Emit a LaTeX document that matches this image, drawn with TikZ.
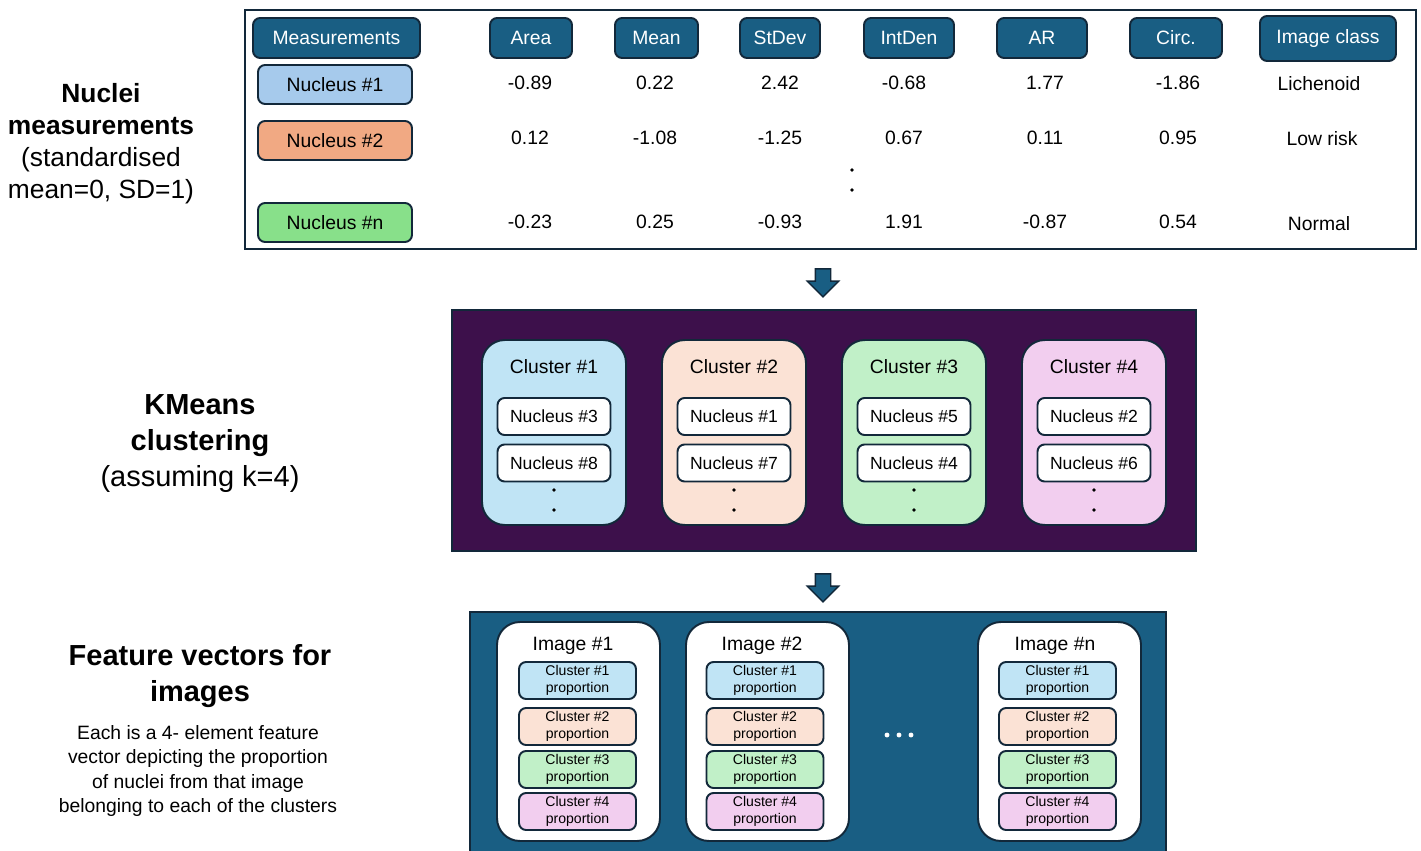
\documentclass[tikz,border=0pt]{standalone}
\usepackage{fontspec}
\setmainfont{Liberation Sans}
\usepackage{tikz}
\usetikzlibrary{shapes.arrows}
\definecolor{PanelEdge}{HTML}{12283A}
\definecolor{HeadTeal}{HTML}{195E83}
\definecolor{NucBlue}{HTML}{A6CAEC}
\definecolor{NucOrange}{HTML}{F1A983}
\definecolor{NucGreen}{HTML}{88E08A}
\definecolor{KmPurple}{HTML}{3D104B}
\definecolor{ClBlue}{HTML}{C0E4F5}
\definecolor{ClPeach}{HTML}{FBE2D5}
\definecolor{ClGreen}{HTML}{C1F0C8}
\definecolor{ClPink}{HTML}{F2CEEF}

\begin{document}
\begin{tikzpicture}[x=0.02cm,y=-0.02cm,
  hdr/.style={draw=PanelEdge,line width=1.1pt,fill=HeadTeal,text=white,rounded corners=4pt,minimum height=0.8cm,inner sep=0pt,font=\fontsize{11}{13}\selectfont},
  nucbox/.style={draw=PanelEdge,line width=1.1pt,rounded corners=4pt,minimum width=3.08cm,minimum height=0.78cm,inner sep=0pt,font=\fontsize{11}{13}\selectfont},
  val/.style={inner sep=0pt,font=\fontsize{11}{13}\selectfont},
  clbox/.style={draw=PanelEdge,line width=1.1pt,rounded corners=13pt,minimum width=2.88cm,minimum height=3.7cm,inner sep=0pt},
  memb/.style={draw=PanelEdge,line width=1.1pt,fill=white,rounded corners=4pt,minimum width=2.26cm,minimum height=0.74cm,inner sep=0pt,font=\fontsize{10}{12}\selectfont},
  imgbox/.style={draw=PanelEdge,line width=1.1pt,fill=white,rounded corners=13pt,minimum width=3.26cm,minimum height=4.38cm,inner sep=0pt},
  prop/.style={draw=PanelEdge,line width=1.1pt,rounded corners=4pt,minimum width=2.34cm,minimum height=0.74cm,inner sep=0pt,align=center,font=\fontsize{8}{9.6}\selectfont},
  ttl/.style={inner sep=0pt,font=\fontsize{11}{13}\selectfont},
  blockarrow/.style={single arrow,draw=PanelEdge,line width=0.8pt,fill=HeadTeal,rotate=-90,minimum height=0.56cm,inner xsep=0pt,inner ysep=0.14cm,single arrow head extend=0.16cm}]
\useasboundingbox (0,0) rectangle (1421,851);
% left captions
\node[align=center,font=\fontsize{15}{18.2}\selectfont] (lblNuc) at (101,144) {\textbf{Nuclei}\\\textbf{measurements}\\(standardised\\mean=0, SD=1)};
\node[align=center,font=\fontsize{16.5}{20.5}\selectfont] (lblKm) at (200,444) {\textbf{KMeans}\\\textbf{clustering}\\(assuming k=4)};
\node[align=center,font=\fontsize{16.5}{20.5}\selectfont\bfseries] (lblFv) at (200,676) {Feature vectors for\\images};
\node[align=center,font=\fontsize{11}{13.7}\selectfont] (lblFvNote) at (198,771) {Each is a 4- element feature\\vector depicting the proportion\\of nuclei from that image\\belonging to each of the clusters};
% measurement table
\node[draw=PanelEdge,line width=1.1pt,minimum width=23.42cm,minimum height=4.78cm,inner sep=0pt] (tbl) at (830.5,129.5) {};
\node[hdr,minimum width=3.34cm] (hMeas) at (336.5,38) {Measurements};
\node[hdr,minimum width=1.64cm] (hArea) at (531,38) {Area};
\node[hdr,minimum width=1.66cm] (hMean) at (656.5,38) {Mean};
\node[hdr,minimum width=1.6cm] (hStDev) at (780,38) {StDev};
\node[hdr,minimum width=1.8cm] (hIntDen) at (909,38) {IntDen};
\node[hdr,minimum width=1.8cm] (hAR) at (1042,38) {AR};
\node[hdr,minimum width=1.84cm] (hCirc) at (1176,38) {Circ.};
\node[hdr,minimum width=2.72cm,minimum height=0.9cm] (hClass) at (1328,38.5) {Image class};
\node[nucbox,fill=NucBlue] (nuc1) at (335,84.5) {Nucleus \#1};
\node[nucbox,fill=NucOrange] (nuc2) at (335,140.5) {Nucleus \#2};
\node[nucbox,fill=NucGreen] (nucN) at (335,222.5) {Nucleus \#n};
\node[val] (v11) at (530,83) {-0.89}; \node[val] (v12) at (655,83) {0.22}; \node[val] (v13) at (780,83) {2.42}; \node[val] (v14) at (904,83) {-0.68}; \node[val] (v15) at (1045,83) {1.77}; \node[val] (v16) at (1178,83) {-1.86}; \node[val] (v17) at (1319,84) {Lichenoid};
\node[val] (v21) at (530,138) {0.12}; \node[val] (v22) at (655,138) {-1.08}; \node[val] (v23) at (780,138) {-1.25}; \node[val] (v24) at (904,138) {0.67}; \node[val] (v25) at (1045,138) {0.11}; \node[val] (v26) at (1178,138) {0.95}; \node[val] (v27) at (1322,139) {Low risk};
\node[val] (vn1) at (530,222) {-0.23}; \node[val] (vn2) at (655,222) {0.25}; \node[val] (vn3) at (780,222) {-0.93}; \node[val] (vn4) at (904,222) {1.91}; \node[val] (vn5) at (1045,222) {-0.87}; \node[val] (vn6) at (1178,222) {0.54}; \node[val] (vn7) at (1319,224) {Normal};
\fill (852,170) circle (1.1pt); \fill (852,190) circle (1.1pt);
% kmeans clustering
\node[blockarrow] (arr1) at (823,279) {};
\node[draw=PanelEdge,line width=1.1pt,fill=KmPurple,minimum width=14.88cm,minimum height=4.82cm,inner sep=0pt] (km) at (824,430.5) {};
\node[clbox,fill=ClBlue] (cl1) at (554,432.5) {};
\node[clbox,fill=ClPeach] (cl2) at (734,432.5) {};
\node[clbox,fill=ClGreen] (cl3) at (914,432.5) {};
\node[clbox,fill=ClPink] (cl4) at (1094,432.5) {};
\node[ttl] (cl1t) at (554,367) {Cluster \#1}; \node[ttl] (cl2t) at (734,367) {Cluster \#2}; \node[ttl] (cl3t) at (914,367) {Cluster \#3}; \node[ttl] (cl4t) at (1094,367) {Cluster \#4};
\node[memb] (m1a) at (554,416.5) {Nucleus \#3}; \node[memb] (m1b) at (554,463) {Nucleus \#8};
\node[memb] (m2a) at (734,416.5) {Nucleus \#1}; \node[memb] (m2b) at (734,463) {Nucleus \#7};
\node[memb] (m3a) at (914,416.5) {Nucleus \#5}; \node[memb] (m3b) at (914,463) {Nucleus \#4};
\node[memb] (m4a) at (1094,416.5) {Nucleus \#2}; \node[memb] (m4b) at (1094,463) {Nucleus \#6};
\fill (554,490) circle (1.1pt); \fill (554,510) circle (1.1pt); \fill (734,490) circle (1.1pt); \fill (734,510) circle (1.1pt);
\fill (914,490) circle (1.1pt); \fill (914,510) circle (1.1pt); \fill (1094,490) circle (1.1pt); \fill (1094,510) circle (1.1pt);
% feature vectors
\node[blockarrow] (arr2) at (823,584) {};
\node[draw=PanelEdge,line width=1.1pt,fill=HeadTeal,minimum width=13.92cm,minimum height=4.9cm,inner sep=0pt] (fv) at (818,734.5) {};
\node[imgbox] (img1) at (578.5,731.5) {};
\node[imgbox] (img2) at (767.5,731.5) {};
\node[imgbox] (imgN) at (1059.5,731.5) {};
\node[ttl] (img1t) at (573,646) {Image \#1}; \node[ttl] (img2t) at (762,646) {Image \#2}; \node[ttl] (imgNt) at (1055,646) {Image \#n};
\node[prop,fill=ClBlue] (p11) at (577.5,680.5) {Cluster \#1\\proportion}; \node[prop,fill=ClPeach] (p12) at (577.5,726.5) {Cluster \#2\\proportion}; \node[prop,fill=ClGreen] (p13) at (577.5,769.5) {Cluster \#3\\proportion}; \node[prop,fill=ClPink] (p14) at (577.5,811.5) {Cluster \#4\\proportion};
\node[prop,fill=ClBlue] (p21) at (765,680.5) {Cluster \#1\\proportion}; \node[prop,fill=ClPeach] (p22) at (765,726.5) {Cluster \#2\\proportion}; \node[prop,fill=ClGreen] (p23) at (765,769.5) {Cluster \#3\\proportion}; \node[prop,fill=ClPink] (p24) at (765,811.5) {Cluster \#4\\proportion};
\node[prop,fill=ClBlue] (pN1) at (1057.5,680.5) {Cluster \#1\\proportion}; \node[prop,fill=ClPeach] (pN2) at (1057.5,726.5) {Cluster \#2\\proportion}; \node[prop,fill=ClGreen] (pN3) at (1057.5,769.5) {Cluster \#3\\proportion}; \node[prop,fill=ClPink] (pN4) at (1057.5,811.5) {Cluster \#4\\proportion};
\fill[white] (887,735) circle (1.4pt); \fill[white] (899,735) circle (1.4pt); \fill[white] (911,735) circle (1.4pt);
\end{tikzpicture}
\end{document}
